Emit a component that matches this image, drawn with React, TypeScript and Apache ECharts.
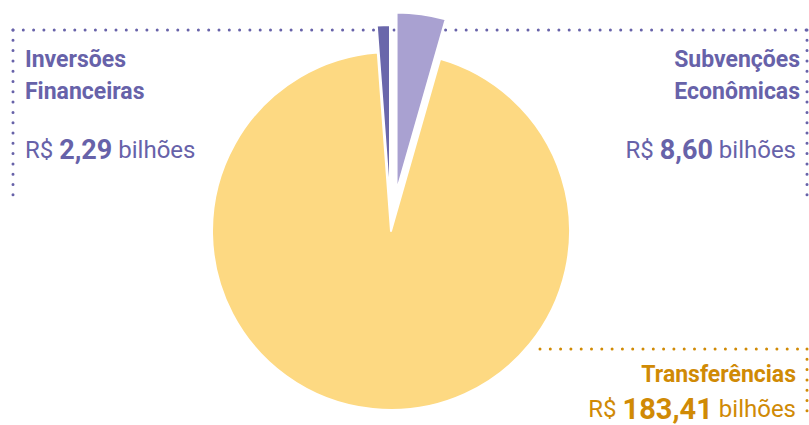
import React, { useEffect, useRef } from "react";
import * as echarts from "echarts";

const categories = ["Subvenções Econômicas", "Transferências", "Inversões Financeiras"];
const values = [8.6, 183.41, 2.29];
const sliceColors = ["#A9A1D1", "#FDD982", "#6A67AB"];
const offsets = [40, 0, 27];

const PURPLE = "#6762A9";
const ORANGE = "#D08A05";

const fmt = (v: number) => v.toFixed(2).replace(".", ",");

function dotted(x1: number, y1: number, x2: number, y2: number, color: string) {
  return {
    type: "line",
    shape: { x1, y1, x2, y2 },
    style: { stroke: color, lineWidth: 3, lineDash: [0, 10.3], lineCap: "round" },
    z: 0,
    silent: true,
  };
}

export default function App() {
  const ref = useRef<HTMLDivElement>(null);
  useEffect(() => {
    if (!ref.current) return;
    const chart = echarts.init(ref.current, undefined, { renderer: "svg" });

    const mkSeries = (idx: number[]) => ({
      type: "pie",
      center: [391, 231],
      radius: [0, 179],
      startAngle: 90,
      clockwise: true,
      silent: true,
      selectedMode: "multiple",
      selectedOffset: offsets[idx[0]] || 0,
      label: { show: false },
      labelLine: { show: false },
      emphasis: { disabled: true },
      z: 2,
      data: categories.map((name, i) => {
        const visible = idx.includes(i);
        return {
          name,
          value: values[i],
          selected: visible && offsets[i] > 0,
          itemStyle: visible
            ? { color: sliceColors[i], borderColor: "#ffffff", borderWidth: 2 }
            : { color: "rgba(0,0,0,0)", borderWidth: 0 },
        };
      }),
    });

    const boldSize = 23;
    const regSize = 24;
    const rich = (col: string, numSize: number) => ({
      r: { fontFamily: "Roboto", fontSize: regSize, color: col, fontWeight: 400 },
      n: { fontFamily: "Roboto", fontSize: numSize, color: col, fontWeight: 700 },
    });

    const nameText = (x: number, y: number, text: string, align: string, col: string) => ({
      type: "text",
      x,
      y,
      style: {
        text,
        fill: col,
        fontFamily: "Roboto",
        fontSize: boldSize,
        fontWeight: 700,
        align,
        verticalAlign: "bottom",
        lineHeight: 32,
      },
      z: 5,
    });
    const valueText = (x: number, y: number, v: number, align: string, col: string, numSize: number) => ({
      type: "text",
      x,
      y,
      style: {
        text: `{r|R$ }{n|${fmt(v)}}{r| bilhões}`,
        rich: rich(col, numSize),
        align,
        verticalAlign: "bottom",
        fill: col,
      },
      z: 5,
    });

    const [sub, tr, inv] = categories;
    const split = (s: string) => s.replace(" ", "\n");

    chart.setOption({
      animation: false,
      backgroundColor: "#ffffff",
      series: [mkSeries([0, 1]), mkSeries([2])],
      graphic: [
        dotted(13, 30, 807, 30, PURPLE),
        dotted(13, 30, 13, 202, PURPLE),
        dotted(807, 30, 807, 202, PURPLE),
        dotted(540, 349, 807, 349, ORANGE),
        dotted(807, 349, 807, 418, ORANGE),
        nameText(25, 107, split(inv), "left", PURPLE),
        valueText(25, 163, values[2], "left", PURPLE, 27),
        nameText(800, 107, split(sub), "right", PURPLE),
        valueText(796, 163, values[0], "right", PURPLE, 27),
        nameText(796, 390, tr, "right", ORANGE),
        valueText(796, 423, values[1], "right", ORANGE, 29),
      ],
    });
    return () => chart.dispose();
  }, []);
  return (
    <div
      ref={ref}
      style={{ position: "fixed", left: 0, top: 0, width: 809, height: 425, background: "#fff" }}
    />
  );
}
